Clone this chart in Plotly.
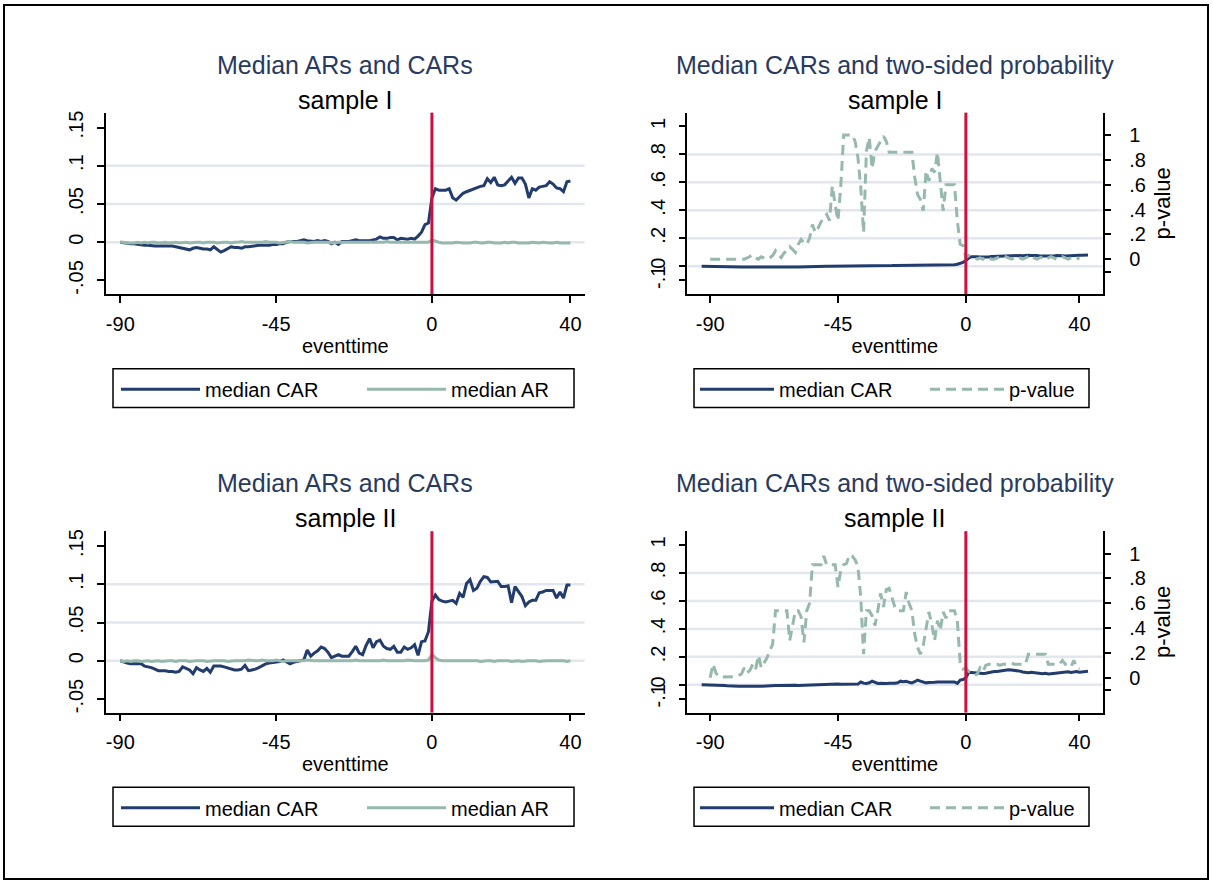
import plotly.graph_objects as go

# ---------------- data ----------------
eventtime = list(range(-90, 41))          # x for median CAR / AR / p-value
eventtime_car_r = list(range(-93, 44))    # x for median CAR in right-hand panels

car_s1 = [0.000, -0.001, -0.001, -0.002, -0.002, -0.003, -0.003, -0.004, -0.004, -0.005,
          -0.005, -0.005, -0.005, -0.005, -0.005, -0.005, -0.006, -0.007, -0.008, -0.009,
          -0.010, -0.008, -0.007, -0.008, -0.009, -0.009, -0.010, -0.006, -0.010, -0.013,
          -0.011, -0.008, -0.006, -0.007, -0.007, -0.008, -0.006, -0.006, -0.005, -0.004,
          -0.004, -0.004, -0.004, -0.004, -0.003, -0.003, -0.002, -0.002, 0.000, 0.001,
          0.001, 0.001, 0.002, 0.003, 0.002, 0.001, 0.001, 0.002, 0.001, 0.002,
          0.001, -0.002, 0.000, -0.003, 0.001, 0.001, 0.001, 0.002, 0.003, 0.002,
          0.002, 0.002, 0.002, 0.003, 0.004, 0.007, 0.005, 0.005, 0.006, 0.006,
          0.003, 0.005, 0.004, 0.004, 0.005, 0.004, 0.008, 0.013, 0.023, 0.025,
          0.058, 0.070, 0.068, 0.068, 0.068, 0.070, 0.058, 0.055, 0.060, 0.064,
          0.066, 0.068, 0.070, 0.071, 0.073, 0.074, 0.083, 0.078, 0.085, 0.075,
          0.074, 0.075, 0.080, 0.085, 0.077, 0.084, 0.084, 0.076, 0.058, 0.070,
          0.068, 0.072, 0.073, 0.074, 0.079, 0.076, 0.071, 0.070, 0.066, 0.079, 0.080]

ar_s1 = [0.000, 0.000, -0.001, -0.001, -0.001, 0.000, -0.001, 0.000, -0.001, 0.000,
         0.000, -0.001, 0.000, 0.000, -0.001, 0.000, 0.000, -0.001, 0.000, 0.000,
         -0.001, 0.000, 0.000, 0.000, -0.001, 0.000, 0.000, 0.000, -0.001, 0.000,
         0.000, 0.000, -0.001, 0.000, 0.000, 0.001, 0.000, 0.000, 0.000, 0.000,
         0.000, 0.000, 0.001, 0.000, 0.000, 0.000, -0.001, 0.000, 0.000, 0.001,
         0.000, 0.000, 0.000, 0.000, -0.001, 0.000, 0.000, 0.000, 0.000, 0.000,
         0.000, -0.001, 0.000, 0.000, 0.000, 0.000, 0.000, 0.000, 0.000, 0.000,
         0.000, 0.000, 0.000, 0.000, 0.000, 0.000, 0.000, 0.001, 0.000, 0.000,
         0.000, 0.000, 0.000, 0.000, 0.000, 0.000, 0.000, 0.000, 0.000, 0.000,
         0.003, 0.001, 0.000, -0.001, -0.001, -0.001, -0.001, 0.000, -0.001, -0.001,
         -0.001, -0.001, 0.000, 0.000, -0.001, -0.001, 0.000, 0.000, -0.001, -0.001,
         -0.001, 0.000, -0.001, 0.000, 0.000, -0.001, -0.001, -0.001, -0.001, 0.000,
         -0.001, -0.001, 0.000, -0.001, -0.001, -0.001, 0.000, -0.001, -0.001, -0.001, -0.001]

car_r_s1 = [0.000, 0.000, 0.000, -0.001, -0.001, -0.002, -0.003, -0.004, -0.004, -0.004,
            -0.005, -0.005, -0.005, -0.005, -0.005, -0.006, -0.005, -0.004, -0.005, -0.005,
            -0.006, -0.005, -0.005, -0.004, -0.005, -0.005, -0.006, -0.006, -0.005, -0.005,
            -0.006, -0.007, -0.006, -0.005, -0.005, -0.004, -0.004, -0.004, -0.003, -0.003,
            -0.002, -0.002, -0.001, -0.001, 0.000, 0.000, 0.000, 0.001, 0.001, 0.001,
            0.002, 0.001, 0.003, 0.002, 0.004, 0.002, 0.003, 0.002, 0.004, 0.003,
            0.002, 0.004, 0.003, 0.002, 0.004, 0.003, 0.003, 0.005, 0.006, 0.006,
            0.006, 0.007, 0.006, 0.006, 0.007, 0.008, 0.008, 0.007, 0.008, 0.008,
            0.009, 0.008, 0.009, 0.009, 0.009, 0.010, 0.009, 0.009, 0.010, 0.010,
            0.014, 0.020, 0.028, 0.040, 0.058, 0.068, 0.070, 0.068, 0.067, 0.066,
            0.066, 0.067, 0.069, 0.070, 0.071, 0.072, 0.074, 0.075, 0.076, 0.077,
            0.076, 0.078, 0.077, 0.075, 0.078, 0.079, 0.077, 0.078, 0.076, 0.074,
            0.073, 0.075, 0.076, 0.075, 0.074, 0.076, 0.078, 0.075, 0.074, 0.076,
            0.077, 0.076, 0.078, 0.079, 0.078, 0.079, 0.080]

p_s1 = [0, 0, 0, 0, 0, 0, 0, 0, 0, 0,
        0, 0, 0, 0.01, 0.02, 0.035, 0.01, 0.0, 0.02, 0.01,
        0.0, 0.01, 0.03, 0.067, 0.03, 0.013, 0.05, 0.07, 0.10, 0.08,
        0.054, 0.12, 0.16, 0.13, 0.12, 0.17, 0.28, 0.215, 0.25, 0.30,
        0.33, 0.36, 0.31, 0.59, 0.44, 0.31, 0.60, 1.0, 1.0, 1.0,
        1.0, 0.95, 0.82, 0.58, 0.215, 0.87, 0.98, 0.73, 0.87, 0.91,
        0.95, 0.99, 0.95, 0.86, 0.86, 0.86, 0.86, 0.86, 0.86, 0.86,
        0.86, 0.86, 0.66, 0.52, 0.48, 0.39, 0.71, 0.63, 0.73, 0.70,
        0.86, 0.60, 0.39, 0.60, 0.60, 0.60, 0.60, 0.31, 0.12, 0.11,
        0.013, 0.03, 0.02, 0.01, 0.0, 0.01, 0.0, 0.02, 0.01, 0.0,
        0.0, 0.01, 0.02, 0.03, 0.02, 0.01, 0.0, 0.01, 0.02, 0.01,
        0.0, 0.01, 0.02, 0.03, 0.01, 0.0, 0.01, 0.02, 0.0, 0.01,
        0.02, 0.01, 0.0, 0.01, 0.02, 0.01, 0.0, 0.01, 0.02, 0.01, 0.0]

car_s2 = [0.000, -0.002, -0.003, -0.004, -0.004, -0.004, -0.004, -0.007, -0.008, -0.009,
          -0.011, -0.013, -0.013, -0.013, -0.014, -0.014, -0.015, -0.014, -0.008, -0.010,
          -0.012, -0.017, -0.009, -0.012, -0.014, -0.010, -0.015, -0.007, -0.007, -0.007,
          -0.008, -0.009, -0.011, -0.012, -0.012, -0.011, -0.006, -0.013, -0.012, -0.011,
          -0.009, -0.006, -0.004, -0.003, -0.002, -0.002, -0.001, 0.001, -0.002, -0.004,
          -0.002, -0.001, 0.000, 0.001, 0.014, 0.006, 0.010, 0.013, 0.018, 0.016,
          0.011, 0.004, 0.006, 0.008, 0.006, 0.006, 0.006, 0.012, 0.019, 0.010,
          0.008, 0.020, 0.029, 0.017, 0.025, 0.027, 0.019, 0.016, 0.015, 0.019,
          0.011, 0.011, 0.018, 0.015, 0.017, 0.021, 0.007, 0.025, 0.026, 0.038,
          0.078, 0.086, 0.080, 0.078, 0.077, 0.078, 0.079, 0.075, 0.088, 0.083,
          0.101, 0.106, 0.092, 0.095, 0.104, 0.110, 0.109, 0.103, 0.104, 0.104,
          0.097, 0.097, 0.098, 0.076, 0.097, 0.090, 0.084, 0.072, 0.077, 0.079,
          0.079, 0.089, 0.090, 0.092, 0.092, 0.092, 0.082, 0.090, 0.082, 0.099, 0.099]

ar_s2 = [0.000, -0.001, 0.000, -0.001, 0.000, 0.000, -0.001, 0.000, 0.000, -0.001,
         0.000, 0.000, -0.001, 0.000, 0.000, 0.000, -0.001, 0.000, 0.000, 0.000,
         -0.001, 0.000, 0.000, 0.000, 0.000, -0.001, 0.000, 0.000, 0.000, 0.000,
         0.000, -0.001, 0.000, 0.000, 0.000, 0.000, 0.000, 0.001, 0.000, 0.000,
         0.000, 0.001, 0.000, 0.000, 0.000, 0.001, 0.000, -0.001, 0.000, 0.000,
         0.000, 0.000, 0.000, 0.000, 0.001, 0.000, 0.000, 0.000, 0.000, 0.000,
         0.000, 0.000, 0.000, 0.000, 0.000, 0.000, 0.000, 0.000, 0.001, 0.000,
         0.000, 0.000, 0.000, 0.000, 0.000, 0.000, 0.001, 0.000, 0.000, 0.000,
         0.000, 0.000, 0.000, 0.001, 0.000, 0.000, 0.000, 0.000, 0.000, 0.001,
         0.008, 0.004, 0.001, 0.000, 0.000, 0.000, 0.000, 0.000, 0.000, 0.000,
         0.000, 0.000, 0.000, 0.000, -0.001, 0.000, 0.000, 0.000, -0.001, 0.000,
         0.000, 0.000, 0.000, -0.001, 0.000, 0.000, -0.001, 0.000, 0.000, 0.000,
         0.000, -0.001, 0.000, 0.000, 0.000, 0.000, 0.000, 0.000, 0.000, -0.001, 0.000]

car_r_s2 = [0.000, 0.000, -0.002, -0.003, -0.003, -0.003, -0.004, -0.004, -0.005, -0.007,
            -0.009, -0.010, -0.010, -0.010, -0.011, -0.010, -0.010, -0.011, -0.010, -0.010,
            -0.010, -0.011, -0.009, -0.006, -0.005, -0.006, -0.005, -0.005, -0.004, -0.005,
            -0.004, -0.005, -0.003, -0.003, -0.004, -0.003, -0.003, -0.002, -0.003, -0.001,
            0.001, 0.002, 0.001, 0.003, 0.004, 0.003, 0.005, 0.004, 0.005, 0.004,
            0.005, 0.004, 0.006, 0.005, 0.006, 0.005, 0.020, 0.012, 0.010, 0.015,
            0.026, 0.018, 0.010, 0.011, 0.009, 0.010, 0.012, 0.010, 0.011, 0.015,
            0.026, 0.022, 0.026, 0.018, 0.014, 0.022, 0.034, 0.026, 0.020, 0.014,
            0.016, 0.020, 0.019, 0.021, 0.020, 0.018, 0.020, 0.021, 0.020, 0.020,
            0.010, 0.034, 0.038, 0.050, 0.090, 0.088, 0.086, 0.080, 0.079, 0.081,
            0.083, 0.088, 0.092, 0.095, 0.096, 0.100, 0.104, 0.107, 0.107, 0.106,
            0.104, 0.101, 0.098, 0.092, 0.088, 0.086, 0.090, 0.086, 0.084, 0.080,
            0.079, 0.082, 0.078, 0.080, 0.083, 0.086, 0.088, 0.091, 0.090, 0.093,
            0.089, 0.092, 0.095, 0.090, 0.094, 0.096, 0.097]

p_s2 = [0.0, 0.11, 0.04, 0.01, 0.005, 0.005, 0.005, 0.005, 0.005, 0.01,
        0.02, 0.03, 0.08, 0.04, 0.06, 0.11, 0.07, 0.18, 0.08, 0.12,
        0.16, 0.22, 0.27, 0.54, 0.54, 0.54, 0.54, 0.54, 0.30, 0.42,
        0.54, 0.54, 0.49, 0.285, 0.54, 0.60, 0.91, 0.91, 0.91, 0.91,
        0.98, 0.91, 0.91, 0.91, 0.91, 0.73, 0.87, 0.91, 0.92, 0.99,
        0.98, 0.95, 0.90, 0.65, 0.19, 0.54, 0.54, 0.50, 0.42, 0.54,
        0.68, 0.57, 0.71, 0.72, 0.65, 0.57, 0.54, 0.54, 0.54, 0.69,
        0.60, 0.54, 0.35, 0.245, 0.19, 0.26, 0.38, 0.53, 0.43, 0.30,
        0.46, 0.38, 0.53, 0.48, 0.54, 0.54, 0.54, 0.46, 0.12, 0.07,
        0.08, 0.05, 0.04, 0.02, 0.03, 0.08, 0.05, 0.10, 0.11, 0.11,
        0.11, 0.11, 0.10, 0.11, 0.11, 0.11, 0.12, 0.11, 0.11, 0.11,
        0.11, 0.11, 0.19, 0.19, 0.19, 0.19, 0.19, 0.19, 0.19, 0.11,
        0.11, 0.11, 0.11, 0.11, 0.14, 0.11, 0.11, 0.09, 0.14, 0.08, 0.07]

samples = ["sample I", "sample II"]
title_left = "Median ARs and CARs"
title_right = "Median CARs and two-sided probability"
x_tickvals = [-90, -45, 0, 40]
x_ticktext = ["-90", "-45", "0", "40"]
yl_tickvals = [-0.05, 0, 0.05, 0.1, 0.15]
yl_ticktext = ["-.05", "0", ".05", ".1", ".15"]
yl_grid = [0, 0.05, 0.1]
yr_tickvals = [-0.1, 0, 0.2, 0.4, 0.6, 0.8, 1]
yr_ticktext = ["-.1", "0", ".2", ".4", ".6", ".8", "1"]
yr_grid = [0, 0.2, 0.4, 0.6, 0.8]
p_tickvals = [-0.1, 0, 0.2, 0.4, 0.6, 0.8, 1]
p_ticktext = ["", "0", ".2", ".4", ".6", ".8", "1"]

# ---------------- style ----------------
W, H = 1213, 883
FONT = "Liberation Sans, Arial, Helvetica, sans-serif"
NAVY = "#233c6e"
TEAL = "#97b9ad"
RED = "#cc1040"
GRID = "#e1e6ef"
TITLE_C = "#283a60"


def fx(px):
    return px / W


def fy(py):
    return 1 - py / H


col_px = [(106.1, 584.6), (687.3, 1102.5)]
row_px = [(111, 293), (531, 713)]
legend_box_px = [(113, 574), (694, 1089)]   # horizontal extent of the legend frames
legend_item_px = [(116, 152, 79), (695, 141, 74)]   # x, entrywidth, itemwidth

axis_base = dict(showline=True, linecolor="black", linewidth=1.5, ticks="outside",
                 ticklen=7, tickwidth=1.5, tickcolor="black", showgrid=False,
                 zeroline=False, tickfont=dict(size=20, color="black", family=FONT),
                 fixedrange=True)

fig = go.Figure()
layout = dict(width=W, height=H, autosize=False, margin=dict(l=0, r=0, t=0, b=0),
              paper_bgcolor="white", plot_bgcolor="white", showlegend=True,
              font=dict(family=FONT, color="black"))
shapes = []
annotations = []

datasets = [
    (car_s1, ar_s1, car_r_s1, p_s1),
    (car_s2, ar_s2, car_r_s2, p_s2),
]

for r, (car, ar, car_r, pval) in enumerate(datasets):
    ytop, ybot = row_px[r]
    ydom = [fy(ybot), fy(ytop)]
    xi = 2 * r + 1
    xl = "x" if xi == 1 else f"x{xi}"
    yl_i = 3 * r + 1
    yl = "y" if yl_i == 1 else f"y{yl_i}"
    xr_i = 2 * r + 2
    xr = f"x{xr_i}"
    yr_i = 3 * r + 2
    yr = f"y{yr_i}"
    yp_i = 3 * r + 3
    yp = f"y{yp_i}"
    leg_l = "legend" if r == 0 else "legend3"
    leg_r = "legend2" if r == 0 else "legend4"

    fig.add_trace(go.Scatter(x=eventtime, y=car, mode="lines", name="median CAR",
                             line=dict(color=NAVY, width=3), xaxis=xl, yaxis=yl,
                             legend=leg_l, hoverinfo="skip"))
    fig.add_trace(go.Scatter(x=eventtime, y=ar, mode="lines", name="median AR",
                             line=dict(color=TEAL, width=3), xaxis=xl, yaxis=yl,
                             legend=leg_l, hoverinfo="skip"))
    fig.add_trace(go.Scatter(x=eventtime_car_r, y=car_r, mode="lines", name="median CAR",
                             line=dict(color=NAVY, width=3), xaxis=xr, yaxis=yr,
                             legend=leg_r, hoverinfo="skip"))
    fig.add_trace(go.Scatter(x=eventtime, y=pval, mode="lines", name="p-value",
                             line=dict(color=TEAL, width=3, dash="10px,6px"),
                             xaxis=xr, yaxis=yp, legend=leg_r, hoverinfo="skip"))

    xkey_l = "xaxis" if xi == 1 else f"xaxis{xi}"
    ykey_l = "yaxis" if yl_i == 1 else f"yaxis{yl_i}"
    xtitle = dict(text="eventtime", font=dict(size=20, family=FONT), standoff=5)
    layout[xkey_l] = dict(axis_base, domain=[fx(col_px[0][0]), fx(col_px[0][1])],
                          anchor=yl, range=[-94.1, 44.1], tickvals=x_tickvals,
                          ticktext=x_ticktext, ticklabelstandoff=4, title=xtitle)
    layout[ykey_l] = dict(axis_base, domain=ydom, anchor=xl, range=[-0.0678, 0.1695],
                          tickvals=yl_tickvals, ticktext=yl_ticktext, tickangle=-90,
                          ticklabelstandoff=6)
    layout[f"xaxis{xr_i}"] = dict(axis_base, domain=[fx(col_px[1][0]), fx(col_px[1][1])],
                                  anchor=yr, range=[-98.05, 48.1], tickvals=x_tickvals,
                                  ticktext=x_ticktext, ticklabelstandoff=4, title=xtitle)
    layout[f"yaxis{yr_i}"] = dict(axis_base, domain=ydom, anchor=xr, range=[-0.1986, 1.099],
                                  tickvals=yr_tickvals, ticktext=yr_ticktext, tickangle=-90,
                                  ticklabelstandoff=6)
    layout[f"yaxis{yp_i}"] = dict(axis_base, domain=ydom, anchor=xr, overlaying=yr,
                                  side="right", range=[-0.28, 1.18], tickvals=p_tickvals,
                                  ticktext=p_ticktext, ticklabelstandoff=14,
                                  title=dict(text="p-value", font=dict(size=22, family=FONT),
                                             standoff=10))

    # gridlines
    for v in yl_grid:
        shapes.append(dict(type="line", xref=f"{xl} domain", yref=yl, x0=0, x1=1, y0=v, y1=v,
                           line=dict(color=GRID, width=2.5), layer="below"))
    for v in yr_grid:
        shapes.append(dict(type="line", xref=f"{xr} domain", yref=yr, x0=0, x1=1, y0=v, y1=v,
                           line=dict(color=GRID, width=2.5), layer="below"))
    # event line at 0
    shapes.append(dict(type="line", xref=xl, yref=f"{yl} domain", x0=0, x1=0, y0=0, y1=1,
                       line=dict(color=RED, width=3)))
    shapes.append(dict(type="line", xref=xr, yref=f"{yr} domain", x0=0, x1=0, y0=0, y1=1,
                       line=dict(color=RED, width=3)))

    # titles
    for c, ttl in enumerate([title_left, title_right]):
        cx = fx((col_px[c][0] + col_px[c][1]) / 2)
        annotations.append(dict(text=ttl, x=cx, y=fy(63 + 420 * r), xref="paper", yref="paper",
                                showarrow=False, xanchor="center", yanchor="middle",
                                font=dict(size=25, color=TITLE_C, family=FONT)))
        annotations.append(dict(text=samples[r], x=cx, y=fy(98 + 420 * r), xref="paper",
                                yref="paper", showarrow=False, xanchor="center",
                                yanchor="middle", font=dict(size=25, color="black", family=FONT)))

    # legends (frame drawn as a paper rectangle)
    leg_common = dict(orientation="h", xanchor="left", yanchor="top",
                      bgcolor="rgba(0,0,0,0)", borderwidth=0,
                      font=dict(size=20, color="black", family=FONT),
                      itemclick=False, itemdoubleclick=False)
    for c, leg in enumerate([leg_l, leg_r]):
        lx, ew, iw = legend_item_px[c]
        layout[leg] = dict(leg_common, x=fx(lx), y=fy(369 + 420 * r), itemwidth=iw,
                           entrywidth=ew)
        bx0, bx1 = legend_box_px[c]
        shapes.append(dict(type="rect", xref="paper", yref="paper", x0=fx(bx0), x1=fx(bx1),
                           y0=fy(407 + 420 * r), y1=fy(368 + 420 * r),
                           line=dict(color="black", width=1.5), layer="below"))

# outer frame
shapes.append(dict(type="rect", xref="paper", yref="paper", x0=fx(4), x1=fx(1208),
                   y0=fy(880), y1=fy(3), line=dict(color="black", width=2)))

layout["shapes"] = shapes
layout["annotations"] = annotations
fig.update_layout(**layout)

fig.write_html("out.html", include_plotlyjs=True, full_html=True,
               config={"displayModeBar": False},
               post_script="document.body.style.margin='0';")
